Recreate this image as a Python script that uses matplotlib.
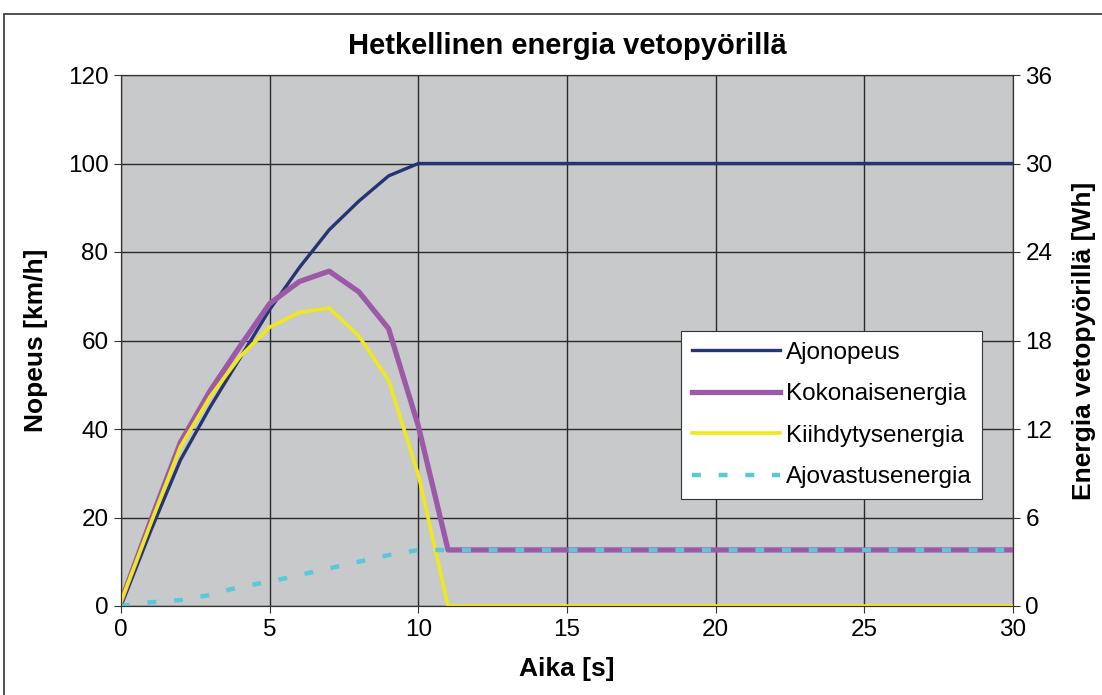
import matplotlib
matplotlib.use("Agg")
import matplotlib.pyplot as plt
from matplotlib.patches import Rectangle

plt.rcParams['font.family'] = ['Liberation Sans', 'DejaVu Sans']

# aika [s]
t = [0, 1, 2, 3, 4, 5, 6, 7, 8, 9, 10, 11, 30]
# ajonopeus [km/h]
nopeus = [0, 17, 33, 45, 56, 67, 76.5, 85, 91.5, 97.2, 100, 100, 100]
# energiat [Wh]
kokonais = [0.3, 5.8, 11.1, 14.6, 17.6, 20.5, 22.0, 22.7, 21.3, 18.8, 12.2, 3.8, 3.8]
kiihdytys = [0.3, 5.6, 10.8, 14.2, 16.9, 18.9, 19.9, 20.2, 18.3, 15.3, 8.9, 0, 0]
ajovastus = [0.0, 0.25, 0.4, 0.75, 1.3, 1.65, 2.1, 2.55, 3.0, 3.45, 3.8, 3.8, 3.8]

W, H = 1102, 695
fig = plt.figure(figsize=(W / 100, H / 100), dpi=100)
ax = fig.add_axes([121 / W, 1 - 606 / H, (1013 - 121) / W, (606 - 75) / H])
ax2 = ax.twinx()

# chart area frame
fig.patches.append(Rectangle((4 / W, -0.1), 1.2, 1 - 14 / H + 0.1, transform=fig.transFigure,
                             fill=False, edgecolor='#333333', lw=1.2))

ax.set_facecolor('#C8C9CB')
ax.set_xlim(0, 30)
ax.set_ylim(0, 120)
ax2.set_ylim(0, 36)
ax.set_xticks(range(0, 31, 5))
ax.set_yticks(range(0, 121, 20))
ax2.set_yticks(range(0, 37, 6))
ax.grid(True, color='#2a2a2a', lw=1.0)
ax.set_axisbelow(True)

l1, = ax.plot(t, nopeus, color='#253475', lw=2.4, label='Ajonopeus', zorder=3)
l2, = ax2.plot(t, kokonais, color='#9B59A8', lw=3.8, label='Kokonaisenergia')
l3, = ax2.plot(t, kiihdytys, color='#F0E81E', lw=2.6, label='Kiihdytysenergia')
l4, = ax2.plot(t, ajovastus, color='#5BC8DA', lw=3.2, ls=(0, (2.0, 4.0)), label='Ajovastusenergia')

for a in (ax, ax2):
    a.tick_params(labelsize=17.5, length=5, width=0.8, color='#333333', pad=4)
    for s in a.spines.values():
        s.set_color('#333333')
        s.set_linewidth(0.8)

ax.set_title('Hetkellinen energia vetopyörillä', fontsize=21, fontweight='bold', pad=15)
ax.set_xlabel('Aika [s]', fontsize=19, fontweight='bold', labelpad=12)
ax.set_ylabel('Nopeus [km/h]', fontsize=19, fontweight='bold', labelpad=14)
ax2.set_ylabel('Energia vetopyörillä [Wh]', fontsize=19, fontweight='bold', labelpad=14)

leg = ax2.legend(handles=[l1, l2, l3, l4], loc='upper left', bbox_to_anchor=(0.628, 0.518),
                 fontsize=17.5, fancybox=False, framealpha=1, edgecolor='#333333',
                 handlelength=3.6, handletextpad=0.25, labelspacing=0.8, borderpad=0.45,
                 borderaxespad=0)
leg.get_frame().set_linewidth(0.8)

fig.savefig('out.png', dpi=100)
